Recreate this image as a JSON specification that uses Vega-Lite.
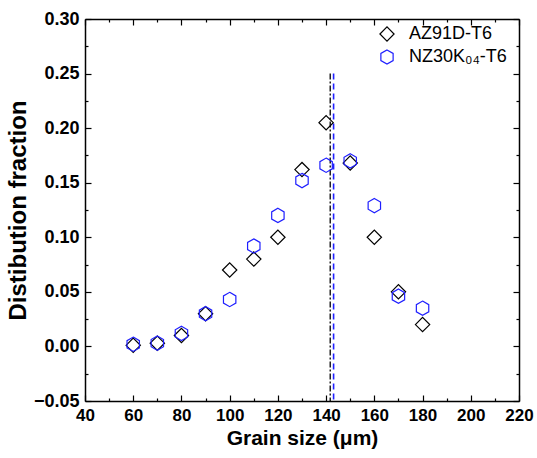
{
  "$schema": "https://vega.github.io/schema/vega-lite/v6.json",
  "width": 434,
  "height": 382,
  "autosize": {"type": "none"},
  "padding": {"left": 85, "top": 19, "right": 18, "bottom": 57},
  "background": "white",
  "config": {
    "view": {"stroke": null},
    "font": "Liberation Sans",
    "axis": {
      "domainColor": "black", "domainWidth": 1.5,
      "tickColor": "black", "tickWidth": 1.2,
      "grid": false,
      "labelFont": "Liberation Sans", "labelFontWeight": "bold", "labelFontSize": 17, "labelColor": "black",
      "titleFont": "Liberation Sans", "titleFontWeight": "bold", "titleFontSize": 21, "titleColor": "black",
      "labelFlush": false, "labelOverlap": false
    }
  },
  "datasets": {
    "pts": [
      {"g": 60, "v": 0.001, "s": "AZ91D-T6"},
      {"g": 70, "v": 0.003, "s": "AZ91D-T6"},
      {"g": 80, "v": 0.010, "s": "AZ91D-T6"},
      {"g": 90, "v": 0.030, "s": "AZ91D-T6"},
      {"g": 100, "v": 0.070, "s": "AZ91D-T6"},
      {"g": 110, "v": 0.080, "s": "AZ91D-T6"},
      {"g": 120, "v": 0.100, "s": "AZ91D-T6"},
      {"g": 130, "v": 0.162, "s": "AZ91D-T6"},
      {"g": 140, "v": 0.205, "s": "AZ91D-T6"},
      {"g": 150, "v": 0.168, "s": "AZ91D-T6"},
      {"g": 160, "v": 0.100, "s": "AZ91D-T6"},
      {"g": 170, "v": 0.050, "s": "AZ91D-T6"},
      {"g": 180, "v": 0.020, "s": "AZ91D-T6"},
      {"g": 60, "v": 0.002, "s": "NZ30K₀₄-T6"},
      {"g": 70, "v": 0.003, "s": "NZ30K₀₄-T6"},
      {"g": 80, "v": 0.012, "s": "NZ30K₀₄-T6"},
      {"g": 90, "v": 0.030, "s": "NZ30K₀₄-T6"},
      {"g": 100, "v": 0.043, "s": "NZ30K₀₄-T6"},
      {"g": 110, "v": 0.092, "s": "NZ30K₀₄-T6"},
      {"g": 120, "v": 0.120, "s": "NZ30K₀₄-T6"},
      {"g": 130, "v": 0.152, "s": "NZ30K₀₄-T6"},
      {"g": 140, "v": 0.166, "s": "NZ30K₀₄-T6"},
      {"g": 150, "v": 0.170, "s": "NZ30K₀₄-T6"},
      {"g": 160, "v": 0.129, "s": "NZ30K₀₄-T6"},
      {"g": 170, "v": 0.046, "s": "NZ30K₀₄-T6"},
      {"g": 180, "v": 0.035, "s": "NZ30K₀₄-T6"}
    ],
    "lines": [
      {"x": 141.7, "line": "AZ91D-T6"},
      {"x": 143.1, "line": "NZ30K04-T6"}
    ]
  },
  "layer": [
    {
      "data": {"name": "lines"},
      "transform": [{"filter": "datum.line === 'AZ91D-T6'"}],
      "mark": {"type": "rule", "color": "black", "strokeWidth": 1.3, "strokeDash": [6, 2, 2, 2]},
      "encoding": {
        "x": {"field": "x", "type": "quantitative",
          "scale": {"domain": [40, 220], "nice": false, "zero": false},
          "axis": {"orient": "top", "title": null, "labels": false,
            "values": [40,50,60,70,80,90,100,110,120,130,140,150,160,170,180,190,200,210,220],
            "tickSize": {"condition": {"test": "datum.value % 20 === 0", "value": -6}, "value": -3}}},
        "y": {"datum": 0.25, "type": "quantitative",
          "scale": {"domain": [-0.05, 0.30], "nice": false, "zero": false},
          "axis": {"orient": "right", "title": null, "labels": false,
            "values": [-0.05,-0.025,0,0.025,0.05,0.075,0.1,0.125,0.15,0.175,0.2,0.225,0.25,0.275,0.3],
            "tickSize": {"condition": {"test": "abs(round(datum.value*1000)) % 50 === 0", "value": -6}, "value": -3}}},
        "y2": {"datum": -0.05}
      }
    },
    {
      "data": {"name": "lines"},
      "transform": [{"filter": "datum.line === 'NZ30K04-T6'"}],
      "mark": {"type": "rule", "color": "#1f1fff", "strokeWidth": 1.6, "strokeDash": [6, 4]},
      "encoding": {
        "x": {"field": "x", "type": "quantitative", "scale": {"domain": [40, 220], "nice": false, "zero": false}, "axis": null},
        "y": {"datum": 0.25, "type": "quantitative", "scale": {"domain": [-0.05, 0.30], "nice": false, "zero": false}, "axis": null},
        "y2": {"datum": -0.05}
      }
    },
    {
      "data": {"name": "pts"},
      "mark": {"type": "point", "filled": false, "strokeWidth": 1.2, "opacity": 1, "size": 205},
      "encoding": {
        "x": {"field": "g", "type": "quantitative",
          "scale": {"domain": [40, 220], "nice": false, "zero": false},
          "axis": {"orient": "bottom", "title": "Grain size (μm)", "format": "d",
            "values": [40,50,60,70,80,90,100,110,120,130,140,150,160,170,180,190,200,210,220],
            "labelExpr": "datum.value % 20 === 0 ? datum.label : ''",
            "labelPadding": 12, "titlePadding": 1,
            "tickSize": {"condition": {"test": "datum.value % 20 === 0", "value": -6}, "value": -3}}},
        "y": {"field": "v", "type": "quantitative",
          "scale": {"domain": [-0.05, 0.30], "nice": false, "zero": false},
          "axis": {"orient": "left", "title": "Distibution fraction",
            "values": [-0.05,-0.025,0,0.025,0.05,0.075,0.1,0.125,0.15,0.175,0.2,0.225,0.25,0.275,0.3],
            "labelExpr": "abs(round(datum.value*1000)) % 50 === 0 ? format(datum.value, '.2f') : ''",
            "labelPadding": 12, "titlePadding": 3, "labelFontSize": 18, "titleFontSize": 24,
            "tickSize": {"condition": {"test": "abs(round(datum.value*1000)) % 50 === 0", "value": -6}, "value": -3}}},
        "shape": {"field": "s", "type": "nominal",
          "scale": {"domain": ["AZ91D-T6", "NZ30K₀₄-T6"], "range": ["diamond", "M0,-1L0.866,-0.5L0.866,0.5L0,1L-0.866,0.5L-0.866,-0.5Z"]},
          "legend": {"orient": "none", "legendX": 293, "legendY": 6, "title": null,
            "labelFontSize": 18, "labelFont": "Liberation Sans", "labelColor": "black",
            "symbolSize": 200, "symbolStrokeWidth": 1.2, "rowPadding": 3, "labelOffset": 13,
            "symbolFillColor": "transparent"}},
        "color": {"field": "s", "type": "nominal",
          "scale": {"domain": ["AZ91D-T6", "NZ30K₀₄-T6"], "range": ["black", "#1f1fff"]}}
      }
    }
  ],
  "resolve": {"axis": {"x": "independent", "y": "independent"}}
}
